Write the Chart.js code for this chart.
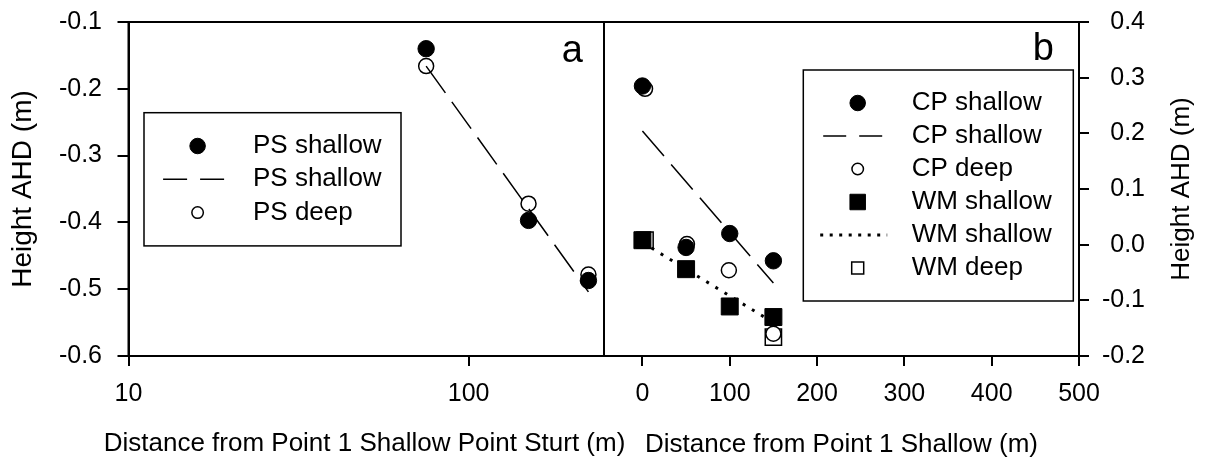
<!DOCTYPE html>
<html>
<head>
<meta charset="utf-8">
<title>Height AHD</title>
<script src="https://cdn.jsdelivr.net/npm/chart.js@4.4.1/dist/chart.umd.min.js"></script>
<style>
  body { margin: 0; background: #fff; }
  #wrap { position: relative; width: 1211px; height: 459px; }
  #wrap canvas { position: absolute; left: 0; top: 0; }
</style>
</head>
<body>
<div id="wrap">
  <canvas id="chartA" width="1211" height="459"></canvas>
  <canvas id="chartB" width="1211" height="459"></canvas>
</div>
<script>
// panel a - Point Sturt (log distance)
let psDist = [75, 150, 225];
let psShallow = [-0.140, -0.397, -0.487];
let psDeep = [-0.166, -0.372, -0.478];
let psFitDist = [75, 225];
let psFit = [-0.166, -0.504];

// panel b - CP and WM transects
let cpDist = [0, 50, 100, 150];
let cpShallow = [0.285, -0.005, 0.020, -0.029];
let cpDeepDist = [3, 51, 99, 150];
let cpDeep = [0.280, 0.001, -0.046, -0.160];
let cpFitDist = [0, 150];
let cpFit = [0.204, -0.069];
let wmDist = [0, 50, 100, 150];
let wmShallow = [0.008, -0.044, -0.111, -0.130];
let wmDeepDist = [3, 150];
let wmDeep = [0.008, -0.166];
let wmFitDist = [0, 150];
let wmFit = [0.004, -0.140];

// ticks
let xTicksA = [10, 100];
let xTicksB = [0, 100, 200, 300, 400, 500];
let yTicksA = [-0.6, -0.5, -0.4, -0.3, -0.2, -0.1];
let yTicksB = [-0.2, -0.1, 0, 0.1, 0.2, 0.3, 0.4];

Chart.defaults.font.family = 'Liberation Sans, Arial, sans-serif';
Chart.defaults.color = '#000';

function pts(xs, ys) {
  return xs.map((x, i) => ({ x: x, y: ys[i] }));
}

function dots(label, xs, ys, style, open) {
  let sq = style == 'rect';
  return {
    label: label,
    data: pts(xs, ys),
    showLine: false,
    pointStyle: style,
    pointRadius: sq ? (open ? 11.5 : 12) : (open ? 7.5 : 8.2),
    pointBackgroundColor: open ? '#fff' : '#000',
    pointBorderColor: '#000',
    pointBorderWidth: open ? 1.5 : 1,
    legendSize: open ? (sq ? 12 : 11.5) : 15.5
  };
}

function fit(label, xs, ys, dash, width, legendDash) {
  return {
    label: label,
    data: pts(xs, ys),
    showLine: true,
    pointRadius: 0,
    borderColor: '#000',
    borderWidth: width,
    borderDash: dash,
    legendDash: legendDash,
    fill: false
  };
}

function yLabel(v) {
  if (Math.abs(v) < 1e-9) return '0.0';
  return v.toFixed(1);
}

// fixed axis sizes, no extra room for the end labels
function fixX(h) {
  return s => { s.height = h; s.paddingLeft = 0; s.paddingRight = 0; };
}
function fixY(w) {
  return s => { s.width = w; s.paddingTop = 0; s.paddingBottom = 0; };
}

// box round the plot area
let frame = {
  id: 'frame',
  afterDatasetsDraw(chart) {
    let a = chart.chartArea, ctx = chart.ctx;
    ctx.save();
    ctx.strokeStyle = '#000';
    ctx.lineWidth = 2;
    ctx.strokeRect(a.left, a.top, a.right - a.left, a.bottom - a.top);
    ctx.restore();
  }
};

// legend inside a box, one row per dataset
let boxLegend = {
  id: 'boxLegend',
  afterDraw(chart, args, o) {
    let ctx = chart.ctx;
    let sets = chart.data.datasets;
    let h = o.rowHeight * (sets.length + 1);
    ctx.save();
    ctx.fillStyle = '#fff';
    ctx.fillRect(o.x, o.y, o.width, h);
    ctx.strokeStyle = '#000';
    ctx.lineWidth = 1.5;
    ctx.strokeRect(o.x, o.y, o.width, h);
    ctx.font = '26px Liberation Sans, Arial, sans-serif';
    ctx.textBaseline = 'middle';
    ctx.textAlign = 'left';
    for (let i = 0; i < sets.length; i++) {
      let ds = sets[i];
      let cy = o.y + o.rowHeight * (i + 1);
      let cx = o.x + o.symbolX;
      ctx.strokeStyle = '#000';
      if (ds.showLine) {
        let lx = cx - 4;
        let half = ds.legendDash[0] < 5 ? 33.5 : 30.5;
        ctx.lineWidth = ds.borderWidth;
        ctx.setLineDash(ds.legendDash);
        ctx.beginPath();
        ctx.moveTo(lx - half, cy);
        ctx.lineTo(lx + half, cy);
        ctx.stroke();
        ctx.setLineDash([]);
      } else {
        let s = ds.legendSize;
        ctx.fillStyle = ds.pointBackgroundColor;
        ctx.lineWidth = ds.pointBorderWidth;
        ctx.beginPath();
        if (ds.pointStyle == 'rect') ctx.rect(cx - s / 2, cy - s / 2, s, s);
        else ctx.arc(cx, cy, s / 2, 0, Math.PI * 2);
        ctx.fill();
        ctx.stroke();
      }
      ctx.fillStyle = '#000';
      ctx.fillText(ds.label, o.x + o.textX, cy);
    }
    ctx.restore();
  }
};

// panel letter
let panelText = {
  id: 'panelText',
  afterDraw(chart, args, o) {
    let ctx = chart.ctx;
    ctx.save();
    ctx.fillStyle = '#000';
    ctx.font = o.size + 'px Liberation Sans, Arial, sans-serif';
    ctx.textAlign = 'right';
    ctx.textBaseline = 'alphabetic';
    ctx.fillText(o.text, o.x, o.y);
    ctx.restore();
  }
};

// axis title drawn by hand (long bottom title, upward right title)
let freeTitle = {
  id: 'freeTitle',
  afterDraw(chart, args, o) {
    if (!o.text) return;
    let ctx = chart.ctx;
    ctx.save();
    ctx.translate(o.x, o.y);
    if (o.upright) ctx.rotate(-Math.PI / 2);
    ctx.fillStyle = '#000';
    ctx.font = o.size + 'px Liberation Sans, Arial, sans-serif';
    ctx.textAlign = 'center';
    ctx.textBaseline = 'middle';
    ctx.fillText(o.text, 0, 0);
    ctx.restore();
  }
};

function gridOpts(len) {
  return { drawOnChartArea: false, drawTicks: true, tickLength: len, color: '#000', lineWidth: 2 };
}
let borderOpts = { display: true, color: '#000', width: 2 };

new Chart(document.getElementById('chartA'), {
  type: 'scatter',
  data: {
    datasets: [
      dots('PS shallow', psDist, psShallow, 'circle', false),
      fit('PS shallow', psFitDist, psFit, [33, 11], 1.5, [24, 13]),
      dots('PS deep', psDist, psDeep, 'circle', true)
    ]
  },
  options: {
    responsive: false,
    animation: false,
    events: [],
    layout: { padding: { left: 0, top: 22, right: 607, bottom: 0 } },
    plugins: {
      legend: { display: false },
      tooltip: { enabled: false },
      boxLegend: { x: 144, y: 112.7, width: 257, rowHeight: 33.3, symbolX: 53.6, textX: 109 },
      panelText: { text: 'a', x: 583, y: 62, size: 38 },
      freeTitle: { text: 'Distance from Point 1 Shallow Point Sturt (m)', x: 364.5, y: 444, size: 26, upright: false }
    },
    scales: {
      x: {
        type: 'logarithmic',
        min: 10,
        max: 250,
        afterBuildTicks: s => { s.ticks = xTicksA.map(v => ({ value: v })); },
        afterFit: fixX(103),
        ticks: { callback: v => String(v), font: { size: 25 }, padding: 13, maxRotation: 0, autoSkip: false },
        grid: gridOpts(10),
        border: borderOpts,
        title: { display: false }
      },
      y: {
        min: -0.6,
        max: -0.1,
        afterBuildTicks: s => { s.ticks = yTicksA.map(v => ({ value: v })); },
        afterFit: fixY(128.5),
        ticks: { callback: yLabel, font: { size: 25 }, padding: 15.5, autoSkip: false },
        grid: gridOpts(11),
        border: borderOpts,
        title: {
          display: true,
          text: 'Height AHD (m)',
          font: { size: 28, lineHeight: 1 },
          padding: { top: 9, bottom: 0 }
        }
      }
    }
  },
  plugins: [frame, boxLegend, panelText, freeTitle]
});

new Chart(document.getElementById('chartB'), {
  type: 'scatter',
  data: {
    datasets: [
      dots('CP shallow', cpDist, cpShallow, 'circle', false),
      fit('CP shallow', cpFitDist, cpFit, [33, 11], 1.5, [23, 13]),
      dots('CP deep', cpDeepDist, cpDeep, 'circle', true),
      dots('WM shallow', wmDist, wmShallow, 'rect', false),
      fit('WM shallow', wmFitDist, wmFit, [3, 7.7], 3, [3, 6.5]),
      dots('WM deep', wmDeepDist, wmDeep, 'rect', true)
    ]
  },
  options: {
    responsive: false,
    animation: false,
    events: [],
    layout: { padding: { left: 604, top: 22, right: 66, bottom: 0 } },
    plugins: {
      legend: { display: false },
      tooltip: { enabled: false },
      boxLegend: { x: 803.3, y: 70, width: 270, rowHeight: 33, symbolX: 54.4, textX: 108.4 },
      panelText: { text: 'b', x: 1054, y: 59.5, size: 38 },
      freeTitle: { text: 'Height AHD (m)', x: 1181.5, y: 189, size: 26, upright: true }
    },
    scales: {
      x: {
        type: 'linear',
        min: -44,
        max: 500,
        afterBuildTicks: s => { s.ticks = xTicksB.map(v => ({ value: v })); },
        afterFit: fixX(103),
        ticks: { callback: v => String(v), font: { size: 25 }, padding: 13, maxRotation: 0, autoSkip: false },
        grid: gridOpts(10),
        border: borderOpts,
        title: {
          display: true,
          text: 'Distance from Point 1 Shallow (m)',
          font: { size: 26, lineHeight: 1 },
          padding: { top: 0, bottom: 1 }
        }
      },
      y: {
        position: 'right',
        min: -0.2,
        max: 0.4,
        afterBuildTicks: s => { s.ticks = yTicksB.map(v => ({ value: v })); },
        afterFit: fixY(66),
        ticks: { callback: yLabel, font: { size: 25 }, padding: 13, crossAlign: 'far', autoSkip: false },
        grid: gridOpts(10),
        border: borderOpts
      }
    }
  },
  plugins: [frame, boxLegend, panelText, freeTitle]
});
</script>
</body>
</html>
